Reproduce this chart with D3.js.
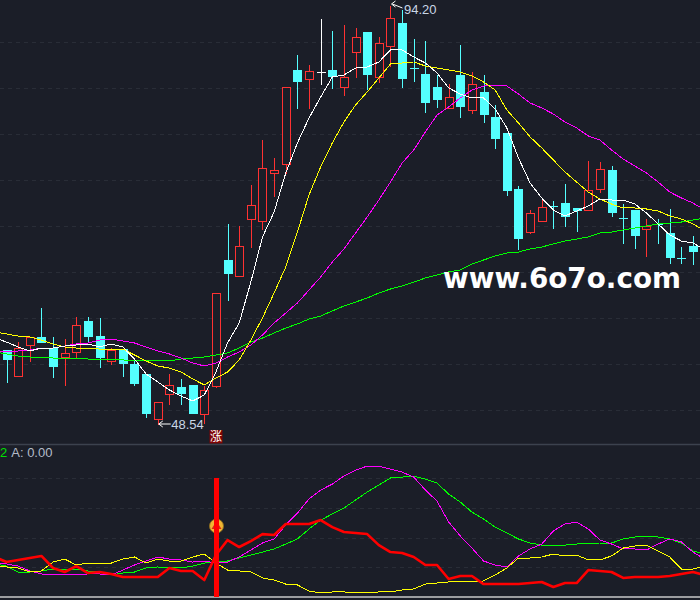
<!DOCTYPE html>
<html>
<head>
<meta charset="utf-8">
<script src="https://cdn.jsdelivr.net/npm/d3@7"></script>
<style>
  html, body { margin: 0; padding: 0; background: #1b1e28; overflow: hidden; }
  svg { display: block; }
</style>
</head>
<body>
<div id="container"></div>
<script>
// candles, one entry per session
const opens = [56.60,53.72,57.15,58.02,56.82,55.84,56.39,59.77,58.13,55.41,56.71,55.08,53.99,49.09,51.81,52.57,52.79,49.63,52.68,66.41,64.67,70.88,70.66,75.89,76.87,87.12,86.14,86.90,87.12,85.26,89.08,91.26,86.35,89.73,92.24,87.35,86.68,85.26,82.98,86.57,82.76,84.72,81.99,80.25,74.15,69.46,70.66,72.32,72.62,72.08,71.86,74.15,76.22,71.01,71.86,69.79,70.36,69.36,66.65,67.94];
const highs = [56.60,57.58,58.02,61.29,58.13,57.91,60.31,60.31,60.20,56.93,56.71,55.52,53.99,50.94,54.10,53.55,52.79,52.79,62.82,70.44,70.23,74.69,79.60,77.64,85.26,88.86,87.77,92.78,91.48,92.13,91.80,91.37,90.82,94.20,93.76,90.60,90.39,86.68,85.70,89.95,87.01,86.68,83.41,80.25,74.59,71.97,73.17,72.95,74.80,72.08,77.31,77.20,76.76,72.62,71.86,70.99,70.99,72.08,67.94,69.14];
const lows = [53.12,53.72,55.41,57.47,53.66,52.79,55.84,57.47,54.75,55.08,53.77,52.79,49.30,48.54,50.72,50.72,49.74,48.65,52.52,62.05,64.67,67.83,69.79,73.39,75.89,82.98,82.98,85.59,85.16,84.39,86.35,85.05,85.81,87.55,85.26,85.92,82.54,83.09,82.98,81.99,82.43,81.45,78.62,73.50,67.61,69.36,70.66,69.90,70.12,69.57,71.86,73.82,71.21,68.27,67.72,66.85,68.27,66.09,66.09,65.98];
const closes = [55.62,56.82,58.02,57.47,54.86,56.28,59.33,58.13,55.84,56.60,55.19,53.01,49.74,50.94,52.79,51.92,49.74,52.25,62.82,64.99,67.94,72.40,76.44,76.22,85.26,85.92,87.01,86.90,86.46,86.35,90.71,86.68,90.06,92.78,86.25,87.33,83.63,83.96,84.17,83.19,85.59,82.32,79.71,74.04,68.81,71.53,72.19,72.30,71.21,71.86,74.04,76.33,71.64,70.99,69.14,70.12,70.34,66.74,66.63,67.39];

// moving averages, from one session before the first candle to one after the last
const ma5 = [57.91,57.47,56.93,56.50,56.82,56.82,57.04,57.15,57.26,56.93,57.26,56.93,55.62,53.99,53.12,52.25,51.59,51.05,51.70,54.21,57.37,59.55,64.01,68.92,71.64,75.89,79.16,81.89,84.17,86.35,86.57,87.33,87.44,87.99,89.30,89.30,88.53,87.88,86.79,85.16,84.50,84.07,84.07,82.87,80.80,77.53,74.80,73.17,71.86,71.21,71.75,72.30,73.06,72.95,72.95,72.51,71.53,70.34,69.14,68.48,68.27,67.50];
const ma10 = [58.57,58.35,58.13,58.02,57.69,57.26,56.93,56.82,56.82,56.71,56.71,56.71,56.06,55.41,54.86,54.64,54.21,53.45,52.79,53.55,54.21,55.52,57.69,60.09,62.82,65.65,69.46,73.50,76.55,79.16,81.45,83.30,84.72,86.25,87.77,87.88,87.99,87.55,87.33,87.12,86.90,86.46,85.81,84.94,82.76,81.34,79.82,78.62,77.31,76.00,74.91,73.82,73.06,72.51,72.08,72.08,71.97,71.75,71.21,70.88,70.34,69.57];
const ma20 = [56.39,56.39,56.50,56.60,56.82,56.82,57.04,57.26,57.37,57.69,57.80,57.58,57.37,56.93,56.50,56.17,55.73,55.19,54.86,55.19,55.84,56.39,57.15,58.24,59.55,60.64,61.73,63.14,64.56,66.19,67.61,69.36,71.10,72.95,74.91,76.98,78.40,80.36,82.21,83.09,84.07,84.94,85.37,85.48,85.37,84.50,83.52,82.98,82.32,81.45,80.80,79.93,79.49,78.40,77.42,76.65,75.89,74.91,73.82,73.17,72.62,71.86];
const ma60 = [56.39,56.17,55.95,55.84,55.84,55.73,55.73,55.73,55.62,55.62,55.52,55.52,55.41,55.41,55.41,55.41,55.62,55.73,55.84,56.06,56.28,56.82,57.47,57.91,58.46,59.00,59.44,59.98,60.31,60.86,61.40,61.83,62.27,62.82,63.25,63.58,64.01,64.45,64.78,65.11,65.32,65.98,66.41,66.85,67.18,67.28,67.61,67.83,68.16,68.48,68.70,68.92,69.36,69.46,69.68,69.90,70.12,70.34,70.44,70.55,70.77,70.99];

// lower indicator, same sessions as the moving averages
const redLine = [26.9,23.5,24.9,26.2,27.6,19.5,16.8,20.8,16.1,16.8,15.5,13.4,13.4,13.4,13.4,19.5,17.5,17.5,11.4,28.2,38.3,33.6,37.6,42.3,41.7,49.1,49.1,49.1,51.7,47.0,43.7,43.0,42.3,34.9,30.2,29.6,26.9,21.5,21.5,12.1,14.1,14.1,8.7,8.7,8.7,8.7,9.4,10.1,6.7,9.4,9.4,18.1,17.5,16.8,12.8,13.4,13.4,13.4,14.1,15.5,16.8,14.8];
const yellowLine = [20.2,20.2,19.5,16.8,17.5,23.5,25.5,21.5,22.8,22.2,22.8,25.5,26.9,22.8,25.5,24.2,24.2,26.9,28.9,22.8,18.1,17.5,16.8,12.8,11.4,8.7,8.1,4.0,2.7,3.4,3.4,2.7,2.7,3.4,3.4,4.7,5.4,8.7,9.4,10.1,10.1,10.1,10.8,14.8,19.5,26.2,26.2,26.9,28.9,27.6,28.2,24.9,24.9,27.6,32.9,34.3,34.9,30.9,26.9,18.8,18.8,20.8];
const magentaLine = [22.2,22.2,20.8,17.5,15.5,14.8,14.8,14.8,15.5,15.5,14.8,18.1,21.5,24.2,26.9,25.5,24.9,23.5,24.2,22.8,23.5,26.9,31.6,36.3,39.0,48.4,56.4,65.9,71.9,75.9,81.3,85.3,88.0,88.0,86.0,84.0,80.6,71.9,64.5,50.4,41.0,32.9,24.2,21.5,20.2,27.6,32.3,35.6,44.4,49.1,50.4,45.7,38.3,35.6,32.3,32.3,31.6,35.6,39.0,37.0,30.2,25.5];
const greenLine = [22.2,20.8,16.8,16.8,17.5,18.8,18.8,18.8,17.5,16.8,14.8,16.1,16.8,19.5,20.2,19.5,19.5,20.8,22.8,23.5,24.2,26.2,28.2,30.2,32.3,35.6,39.0,45.7,51.7,55.8,59.8,65.2,70.6,75.3,80.0,80.6,81.3,79.3,76.6,69.2,63.8,57.1,52.4,47.0,43.0,39.0,36.3,34.9,34.3,34.9,35.6,36.3,35.6,36.3,39.0,40.3,41.0,40.3,39.0,36.3,30.9,28.9];

const priceTicks = [90.17,85.16,80.14,75.13,70.12,65.11,60.09,55.08,50.07];
const indicatorTicks = [20,40,60,80];
const signalDay = 18;
const signalTop = 80;
const signalDot = 47.7;
const lowDay = 13;
const highDay = 33;

const width = 700;
const height = 600;
const bg = "#1b1e28";
const up = "#ff3232";
const down = "#54ffff";

const x = d3.scaleLinear().domain([0, 59]).range([6.5, 693]);
const y = d3.scaleLinear().domain([48.54, 94.20]).range([424, 5]);
const y2 = d3.scaleLinear().domain([0, 100]).range([597, 448.25]);

// snap to the pixel grid so the candles stay sharp
const px = v => Math.round(x(v)) + 0.5;
const py = v => Math.round(y(v)) + 0.5;

const svg = d3.select("#container").append("svg")
  .attr("width", width).attr("height", height)
  .style("background", bg);

svg.append("clipPath").attr("id", "clipMain").append("rect")
  .attr("width", width).attr("height", 444);
svg.append("clipPath").attr("id", "clipSub").append("rect")
  .attr("y", 446).attr("width", width).attr("height", 151);

// grids
function grid(scale, ticks) {
  const g = svg.append("g").attr("class", "grid")
    .call(d3.axisLeft(scale).tickValues(ticks).tickSize(-width).tickFormat(""));
  g.select(".domain").remove();
  g.selectAll("line")
    .attr("stroke", "#292d37")
    .attr("stroke-dasharray", "4 4")
    .attr("shape-rendering", "crispEdges");
}
grid(y, priceTicks);
grid(y2, indicatorTicks);

// candles
const main = svg.append("g").attr("clip-path", "url(#clipMain)");
const days = d3.range(opens.length);
const colorOf = i => closes[i] === opens[i] ? "#ffffff" : (closes[i] > opens[i] ? up : down);

const candles = main.selectAll("g.candle")
  .data(days)
  .enter()
  .append("g")
  .attr("class", "candle")
  .attr("shape-rendering", "crispEdges")
  .attr("stroke", colorOf);

candles.each(function(i) {
  const g = d3.select(this);
  const cx = px(i);
  const top = py(Math.max(opens[i], closes[i]));
  const bottom = py(Math.min(opens[i], closes[i]));
  g.append("line").attr("x1", cx).attr("x2", cx).attr("y1", py(highs[i])).attr("y2", top);
  g.append("line").attr("x1", cx).attr("x2", cx).attr("y1", bottom).attr("y2", py(lows[i]));
  if (bottom - top < 1.5) {
    g.append("line").attr("x1", cx - 4.5).attr("x2", cx + 4.5).attr("y1", top).attr("y2", top);
  } else if (closes[i] > opens[i]) {
    g.append("rect").attr("x", cx - 4).attr("width", 8)
      .attr("y", top).attr("height", bottom - top)
      .attr("fill", bg);
  } else {
    g.append("line").attr("x1", cx).attr("x2", cx).attr("y1", top).attr("y2", bottom);
    g.append("rect").attr("x", cx - 4.5).attr("width", 9)
      .attr("y", top - 0.5).attr("height", bottom - top + 1)
      .attr("fill", down).attr("stroke", "none");
  }
});

// lines start one session before the first candle
const line = scale => d3.line().x((d, i) => x(i - 1)).y(d => scale(d));

function drawLines(parent, scale, series) {
  series.forEach(s => {
    parent.append("path")
      .datum(s.values)
      .attr("d", line(scale))
      .attr("fill", "none")
      .attr("stroke", s.color)
      .attr("stroke-width", s.width)
      .attr("stroke-linejoin", "round")
      .attr("shape-rendering", s.width > 1 ? "auto" : "crispEdges");
  });
}

drawLines(main, y, [
  { values: ma60, color: "#00ff00", width: 1 },
  { values: ma20, color: "#ff00ff", width: 1 },
  { values: ma10, color: "#ffff00", width: 1 },
  { values: ma5, color: "#ffffff", width: 1 }
]);

// high and low labels
const labelColor = "#c9d6e6";
const labelFont = '"Liberation Sans", Arial, sans-serif';

const lowX = x(lowDay), lowY = y(d3.min(lows));
main.append("path")
  .attr("d", `M${lowX + 13},${lowY}H${lowX + 1}M${lowX + 5},${lowY - 3}L${lowX + 1},${lowY}L${lowX + 5},${lowY + 3}`)
  .attr("fill", "none").attr("stroke", "#ffffff");
main.append("text")
  .attr("x", lowX + 13.5).attr("y", lowY + 5)
  .attr("font-family", labelFont).attr("font-size", 13)
  .attr("fill", labelColor)
  .text(d3.min(lows).toFixed(2));

const highX = x(highDay), highY = y(d3.max(highs));
main.append("path")
  .attr("d", `M${highX + 12},${highY + 3}L${highX + 2},${highY - 1}M${highX + 5},${highY - 4}L${highX + 1},${highY - 1}L${highX + 5},${highY + 2}`)
  .attr("fill", "none").attr("stroke", "#ffffff");
main.append("text")
  .attr("x", highX + 13.5).attr("y", highY + 9)
  .attr("font-family", labelFont).attr("font-size", 13)
  .attr("fill", labelColor)
  .text(d3.max(highs).toFixed(2));

// watermark
main.append("text")
  .attr("x", 443).attr("y", 288)
  .attr("textLength", 238).attr("lengthAdjust", "spacingAndGlyphs")
  .attr("font-family", '"DejaVu Sans", sans-serif').attr("font-weight", "bold")
  .attr("font-size", 28)
  .attr("fill", "#ffffff")
  .text("www.6o7o.com");

// limit-up stamp under the big candle
main.append("rect")
  .attr("x", px(signalDay) - 7).attr("y", 430)
  .attr("width", 13).attr("height", 13.5)
  .attr("fill", "#800404");
main.append("text")
  .attr("x", px(signalDay) - 0.5).attr("y", 441)
  .attr("text-anchor", "middle")
  .attr("font-family", '"Noto Sans CJK SC", sans-serif').attr("font-size", 12)
  .attr("fill", "#ffffff")
  .text("涨");

// pane divider and bottom border
svg.append("line").attr("x1", 0).attr("x2", width).attr("y1", 444.5).attr("y2", 444.5)
  .attr("stroke", "#3c424e").attr("stroke-width", 1.5);
svg.append("line").attr("x1", 0).attr("x2", width).attr("y1", y2(0)).attr("y2", y2(0))
  .attr("stroke", "#c8c8c8").attr("stroke-width", 1.5);

// indicator header
const header = svg.append("text")
  .attr("x", 0).attr("y", 457)
  .attr("font-family", labelFont).attr("font-size", 13);
header.append("tspan").attr("fill", "#00e000").text("2");
header.append("tspan").attr("dx", 4).attr("fill", "#b4bcc8").text("A: 0.00");

// indicator pane
const sub = svg.append("g").attr("clip-path", "url(#clipSub)");
drawLines(sub, y2, [
  { values: greenLine, color: "#00ff00", width: 1 },
  { values: magentaLine, color: "#ff00ff", width: 1 },
  { values: yellowLine, color: "#ffff00", width: 1 },
  { values: redLine, color: "#ff0000", width: 2.6 }
]);

sub.append("circle")
  .attr("cx", px(signalDay)).attr("cy", y2(signalDot)).attr("r", 7)
  .attr("fill", "#f2b632").attr("stroke", "#8a6a20");
sub.append("path")
  .attr("d", `M${px(signalDay) - 5},${y2(signalDot) + 3}L${px(signalDay)},${y2(signalDot) - 5}L${px(signalDay) + 5},${y2(signalDot) + 3}`)
  .attr("fill", "#d8261c");
sub.append("rect")
  .attr("x", px(signalDay) - 2.5).attr("width", 5)
  .attr("y", y2(signalTop)).attr("height", y2(0) - y2(signalTop))
  .attr("fill", "#ff0000");
</script>
</body>
</html>
